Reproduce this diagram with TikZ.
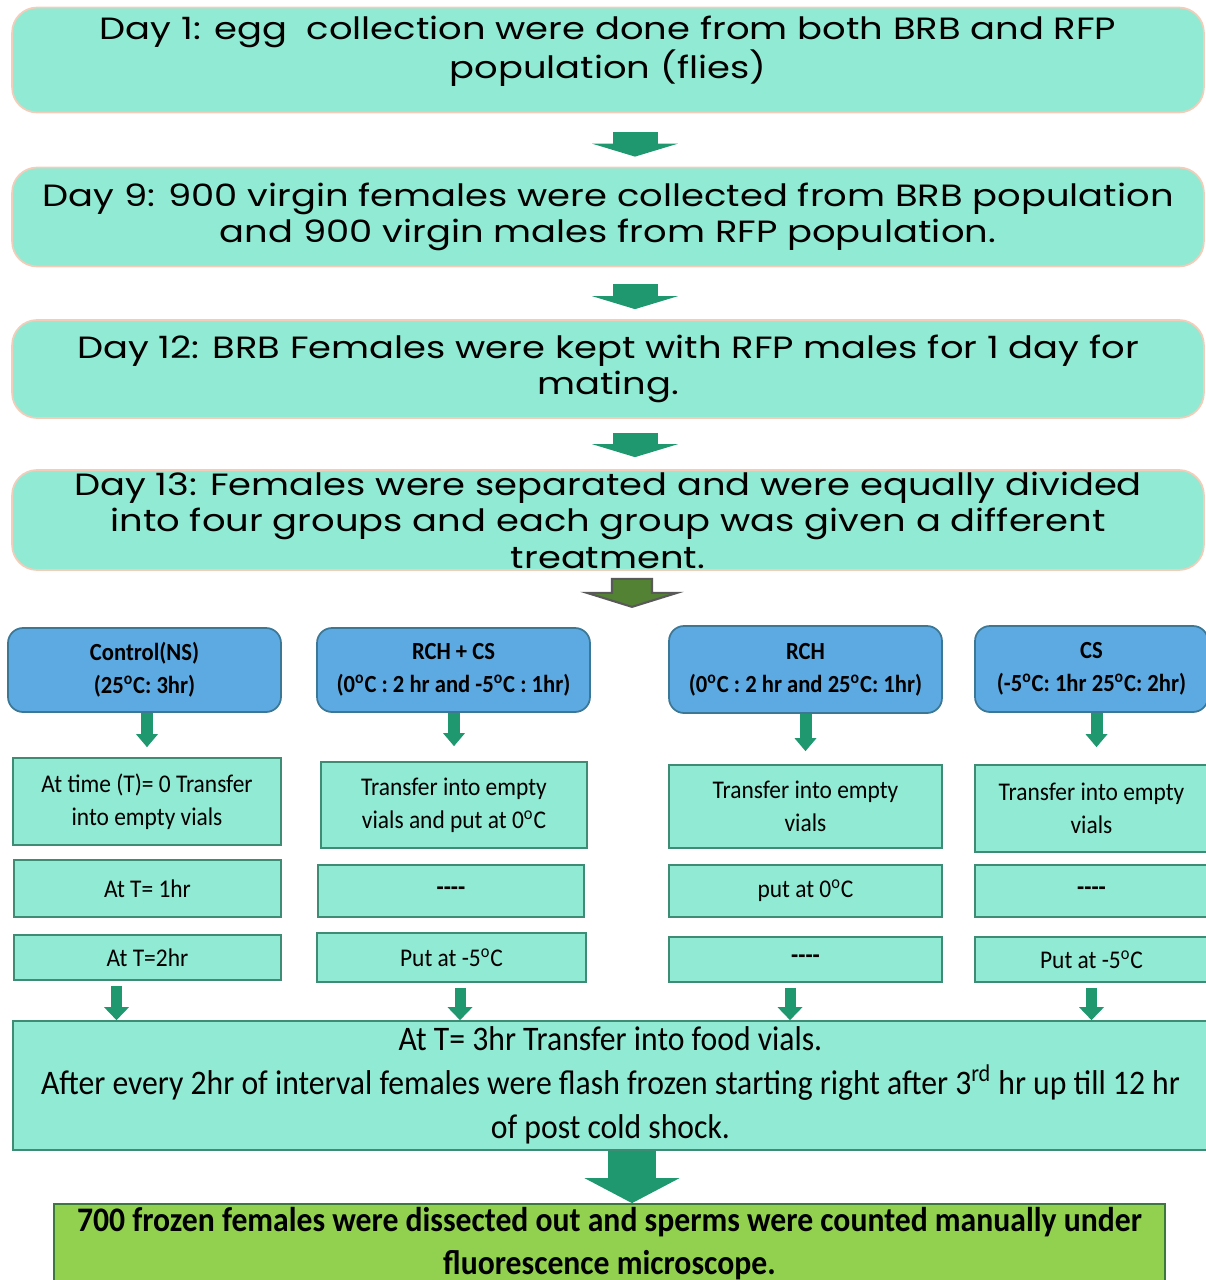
\documentclass[tikz,border=0pt]{standalone}
\usepackage{fontspec}
\usepackage{tikz}
\usetikzlibrary{arrows.meta}
\newfontfamily\dayfamily[FakeStretch=1.2]{Poppins}
\newfontfamily\calfamily[FakeStretch=0.92]{Carlito}
\definecolor{boxteal}{RGB}{145,234,211}
\definecolor{dayedge}{RGB}{244,204,186}
\definecolor{stepedge}{RGB}{62,140,115}
\definecolor{headblue}{RGB}{93,170,226}
\definecolor{headedge}{RGB}{60,120,150}
\definecolor{arrowgreen}{RGB}{31,152,112}
\definecolor{splitolive}{RGB}{84,130,53}
\definecolor{finalgreen}{RGB}{146,208,80}
\definecolor{finaledge}{RGB}{60,120,60}
\newcommand{\dg}{\textsuperscript{o}}

\begin{document}
\begin{tikzpicture}[x=0.02cm, y=-0.02cm]

  \tikzstyle{daytext}=[align=center, font=\dayfamily\fontsize{17.5}{20.2}\selectfont]
  \tikzstyle{daybox}=[daytext, rectangle, rounded corners=0.5cm, fill=boxteal, draw=dayedge, line width=1pt, minimum width=23.84cm, inner sep=0pt]
  \tikzstyle{headbox}=[rectangle, rounded corners=0.3cm, fill=headblue, draw=headedge, line width=1pt, minimum width=5.46cm, minimum height=1.68cm, inner sep=0pt, align=center, font=\calfamily\bfseries\fontsize{14}{19}\selectfont]
  \tikzstyle{stepbox}=[rectangle, fill=boxteal, draw=stepedge, line width=1pt, minimum width=5.36cm, inner sep=0pt, align=center, font=\calfamily\fontsize{14.5}{19}\selectfont]
  \tikzstyle{flowarrow}=[draw=arrowgreen, line width=0.9cm, -{Triangle[length=0.26cm, width=1.72cm, line width=0pt]}]
  \tikzstyle{stepflow}=[draw=arrowgreen, line width=0.24cm, -{Triangle[length=0.26cm, width=0.44cm, line width=0pt]}]
  \tikzstyle{dropflow}=[draw=arrowgreen, line width=0.22cm, -{Triangle[length=0.26cm, width=0.5cm, line width=0pt]}]
  \tikzstyle{bigflow}=[draw=arrowgreen, line width=0.96cm, -{Triangle[length=0.5cm, width=1.9cm, line width=0pt]}]
  \tikzstyle{splitarrow}=[fill=splitolive, draw=black!65, line width=1.2pt, line join=miter]

  \useasboundingbox (0,0) rectangle (1205,1280);

  % day boxes
  \node[daybox, minimum height=2.1cm, label={[daytext, yshift=0.17cm]center:{Day 1: egg\ \ collection were done from both BRB and RFP\\population (flies)}}] (day1) at (608,60) {};
  \node[daybox, minimum height=1.98cm] (day9) at (608,217) {Day 9: 900 virgin females were collected from BRB population\\and 900 virgin males from RFP population.};
  \node[daybox, minimum height=1.96cm] (day12) at (608,369) {Day 12: BRB Females were kept with RFP males for 1 day for\\mating.};
  \node[daybox, minimum height=2cm, font=\dayfamily\fontsize{17.5}{20.8}\selectfont] (day13) at (608,520) {Day 13: Females were separated and were equally divided\\into four groups and each group was given a different\\treatment.};

  \draw[flowarrow, shorten <=0.38cm, shorten >=0.2cm] ([xshift=0.54cm]day1.south) -- ([xshift=0.54cm]day9.north);
  \draw[flowarrow, shorten <=0.34cm, shorten >=0.2cm] ([xshift=0.54cm]day9.south) -- ([xshift=0.54cm]day12.north);
  \draw[flowarrow, shorten <=0.28cm, shorten >=0.24cm] ([xshift=0.54cm]day12.south) -- ([xshift=0.54cm]day13.north);

  \coordinate (split) at ([xshift=0.48cm, yshift=-0.16cm]day13.south);
  \draw[splitarrow, shift={(split)}] (-20,0) -- (20,0) -- (20,14) -- (45,14) -- (0,28) -- (-45,14) -- (-20,14) -- cycle;

  % treatments
  \node[headbox] (ctrl) at (144.5,670) {Control(NS)\\(25\dg C: 3hr)};
  \node[headbox] (rchcs) at (453.5,670) {RCH + CS\\(0\dg C : 2 hr and -5\dg C : 1hr)};
  \node[headbox, minimum height=1.74cm] (rch) at (805.5,669.5) {RCH\\(0\dg C : 2 hr and 25\dg C: 1hr)};
  \node[headbox, minimum width=4.66cm, minimum height=1.72cm] (cs) at (1091.5,669) {CS\\(-5\dg C: 1hr 25\dg C: 2hr)};

  \node[stepbox, minimum height=1.74cm] (c1) at (147,801.5) {At time (T)= 0 Transfer\\into empty vials};
  \node[stepbox, minimum width=5.32cm, minimum height=1.72cm] (rc1) at (454,805) {Transfer into empty\\vials and put at 0\dg C};
  \node[stepbox, minimum width=5.46cm, minimum height=1.66cm] (r1) at (805.5,806.5) {Transfer into empty\\vials};
  \node[stepbox, minimum width=4.66cm, minimum height=1.74cm] (s1) at (1091.5,808.5) {Transfer into empty\\vials};

  \node[stepbox, minimum width=5.34cm, minimum height=1.14cm] (c2) at (147.5,888.5) {At T= 1hr};
  \node[stepbox, minimum width=5.32cm, minimum height=1.04cm] (rc2) at (451,891) {\bfseries -{}-{}-{}-};
  \node[stepbox, minimum width=5.46cm, minimum height=1.04cm] (r2) at (805.5,891) {put at 0\dg C};
  \node[stepbox, minimum width=4.66cm, minimum height=1.04cm] (s2) at (1091.5,891) {\bfseries -{}-{}-{}-};

  \node[stepbox, minimum width=5.34cm, minimum height=0.9cm] (c3) at (147.5,957.5) {At T=2hr};
  \node[stepbox, minimum width=5.38cm, minimum height=0.98cm] (rc3) at (451.5,957.5) {Put at -5\dg C};
  \node[stepbox, minimum width=5.46cm, minimum height=0.9cm] (r3) at (805.5,959.5) {\bfseries -{}-{}-{}-};
  \node[stepbox, minimum width=4.66cm, minimum height=0.9cm] (s3) at (1091.5,959.5) {Put at -5\dg C};

  \draw[stepflow, shorten >=0.2cm] (c1.north |- ctrl.south) -- (c1.north);
  \draw[stepflow, shorten >=0.3cm] (rc1.north |- rchcs.south) -- (rc1.north);
  \draw[stepflow, shorten >=0.26cm] (r1.north |- rch.south) -- (r1.north);
  \draw[stepflow, shorten >=0.34cm] ([xshift=0.1cm]s1.north |- cs.south) -- ([xshift=0.1cm]s1.north);

  % after cold shock
  \node[stepbox, minimum width=23.9cm, minimum height=2.58cm, font=\calfamily\fontsize{19.6}{25}\selectfont] (big) at (610.5,1085.5) {At T= 3hr Transfer into food vials.\\After every 2hr of interval females were flash frozen starting right after 3\textsuperscript{rd} hr up till 12 hr\\of post cold shock.};

  \draw[dropflow, shorten <=0.1cm] ([xshift=-0.62cm]c3.south) -- ([xshift=-0.62cm]c3.south |- big.north);
  \draw[dropflow, shorten <=0.1cm] ([xshift=0.17cm]rc3.south) -- ([xshift=0.17cm]rc3.south |- big.north);
  \draw[dropflow, shorten <=0.1cm] ([xshift=-0.31cm]r3.south) -- ([xshift=-0.31cm]r3.south |- big.north);
  \draw[dropflow, shorten <=0.1cm] (s3.south) -- (s3.south |- big.north);

  \node[stepbox, fill=finalgreen, draw=finaledge, minimum width=22.22cm, minimum height=1.58cm, font=\calfamily\bfseries\fontsize{19.6}{24.5}\selectfont] (final) at (609.5,1243.5) {700 frozen females were dissected out and sperms were counted manually under\\fluorescence microscope.};

  \draw[bigflow] ([xshift=0.43cm]big.south) -- ([xshift=0.43cm]big.south |- final.north);

\end{tikzpicture}
\end{document}
